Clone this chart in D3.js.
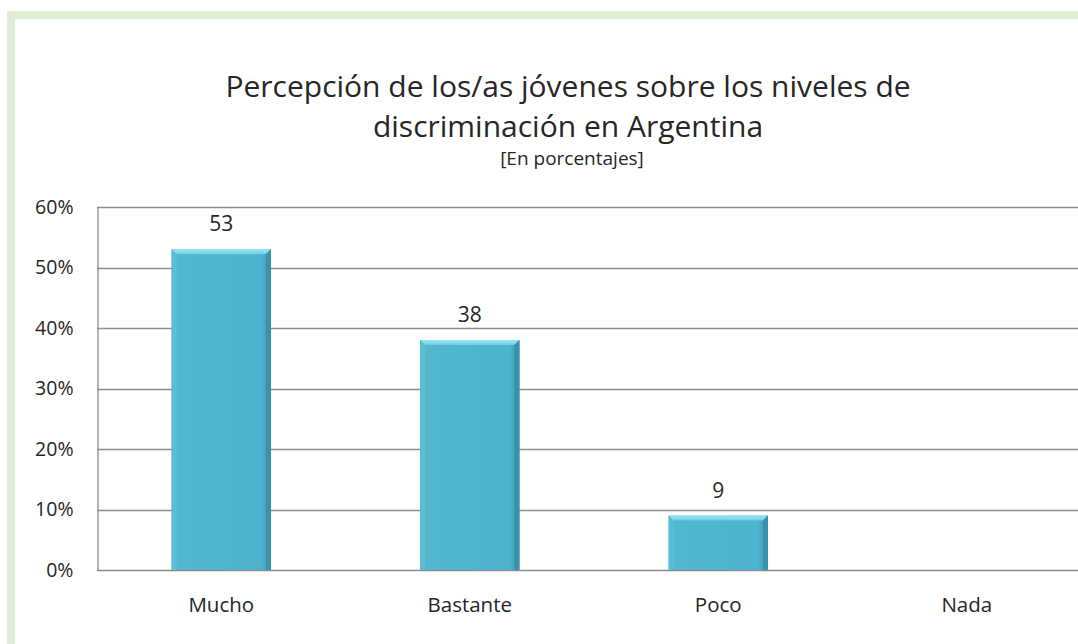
<!DOCTYPE html>
<html>
<head>
<meta charset="utf-8">
<script src="https://cdn.jsdelivr.net/npm/d3@7"></script>
<style>
  html, body { margin: 0; padding: 0; background: #fff; }
  svg { display: block; }
  text { font-family: "Open Sans", "Noto Sans", sans-serif; fill: #262626; }
</style>
</head>
<body>
<svg id="chart" width="1078" height="644"></svg>
<script>
// Survey answers and their shares (percent)
const categories = ["Mucho", "Bastante", "Poco", "Nada"];
const values = [53, 38, 9, 0];
const yTicks = [0, 10, 20, 30, 40, 50, 60];
const titleLines = ["Percepción de los/as jóvenes sobre los niveles de", "discriminación en Argentina"];
const subtitle = "[En porcentajes]";

const svg = d3.select("#chart");
const W = 1078, H = 644;

// Outer chart frame (light green border)
svg.append("rect")
  .attr("x", 11).attr("y", 15)
  .attr("width", W + 20).attr("height", H + 20)
  .attr("fill", "#fff")
  .attr("stroke", "#e2edd8").attr("stroke-width", 8);

const plot = { left: 97, right: 1091, top: 207, bottom: 570 };

const x = d3.scaleBand()
  .domain(categories)
  .range([plot.left, plot.right])
  .paddingInner(0.6).paddingOuter(0.3);

const y = d3.scaleLinear()
  .domain([0, 60])
  .range([plot.bottom, plot.top]);

// Gradients for the bevelled bars
const defs = svg.append("defs");
const body = defs.append("linearGradient").attr("id", "barBody")
  .attr("x1", 0).attr("x2", 1).attr("y1", 0).attr("y2", 0);
body.append("stop").attr("offset", "0%").attr("stop-color", "#4aaec8");
body.append("stop").attr("offset", "4%").attr("stop-color", "#52b7cf");
body.append("stop").attr("offset", "90%").attr("stop-color", "#4db4cd");
body.append("stop").attr("offset", "97%").attr("stop-color", "#3f9db6");
body.append("stop").attr("offset", "100%").attr("stop-color", "#3a93ab");

const topBevel = defs.append("linearGradient").attr("id", "barTop")
  .attr("x1", 0).attr("x2", 0).attr("y1", 0).attr("y2", 1);
topBevel.append("stop").attr("offset", "0%").attr("stop-color", "#9be6f5");
topBevel.append("stop").attr("offset", "100%").attr("stop-color", "#6fcfe4");

// Horizontal gridlines
svg.append("g")
  .selectAll("line")
  .data(yTicks)
  .join("line")
  .attr("x1", plot.left).attr("x2", W)
  .attr("y1", d => Math.round(y(d)) + 0.5).attr("y2", d => Math.round(y(d)) + 0.5)
  .attr("stroke", "#8c8c8c").attr("stroke-width", 1.3);

// Y axis
const yAxis = d3.axisLeft(y)
  .tickValues(yTicks)
  .tickFormat(d => d + "%")
  .tickSize(0)
  .tickPadding(24);
const gy = svg.append("g")
  .attr("transform", `translate(${plot.left + 0.5},0)`)
  .call(yAxis);
gy.select(".domain").attr("stroke", "#8c8c8c").attr("stroke-width", 1.3);
gy.selectAll("text").style("font-size", "19.5px").attr("fill", "#262626");

// X axis labels
const xAxis = d3.axisBottom(x).tickSize(0).tickPadding(27);
const gx = svg.append("g")
  .attr("transform", `translate(0,${Math.round(plot.bottom) + 0.5})`)
  .call(xAxis);
gx.select(".domain").remove();
gx.selectAll("text").style("font-size", "20.5px").attr("fill", "#262626");

// Bars with bevelled tops
const bev = 5;
const bars = svg.append("g")
  .selectAll("g")
  .data(categories.map((c, i) => ({ c, v: values[i] })).filter(d => d.v > 0))
  .join("g");

bars.append("rect")
  .attr("x", d => x(d.c))
  .attr("y", d => y(d.v))
  .attr("width", x.bandwidth())
  .attr("height", d => y(0) - y(d.v))
  .attr("fill", "url(#barBody)");

bars.append("path")
  .attr("d", d => {
    const x0 = x(d.c), x1 = x0 + x.bandwidth(), t = y(d.v);
    return `M${x0},${t}L${x1},${t}L${x1 - bev},${t + bev}L${x0 + bev},${t + bev}Z`;
  })
  .attr("fill", "url(#barTop)");

bars.append("path")
  .attr("d", d => {
    const x0 = x(d.c), t = y(d.v), b = y(0);
    return `M${x0},${t}L${x0 + bev},${t + bev}L${x0 + bev},${b}L${x0},${b}Z`;
  })
  .attr("fill", "#5fc2da").attr("opacity", 0.7);

bars.append("path")
  .attr("d", d => {
    const x1 = x(d.c) + x.bandwidth(), t = y(d.v), b = y(0);
    return `M${x1},${t}L${x1 - bev},${t + bev}L${x1 - bev},${b}L${x1},${b}Z`;
  })
  .attr("fill", "#3a92aa");

// Value labels
bars.append("text")
  .attr("x", d => x(d.c) + x.bandwidth() / 2)
  .attr("y", d => y(d.v) - 18)
  .attr("text-anchor", "middle")
  .style("font-size", "21px")
  .text(d => d.v);

// Title
const title = svg.append("g").attr("text-anchor", "middle");
title.selectAll("text.t")
  .data(titleLines)
  .join("text")
  .attr("class", "t")
  .attr("x", 568)
  .attr("y", (d, i) => 97 + i * 40)
  .style("font-size", "30px")
  .text(d => d);
title.append("text")
  .attr("x", 572).attr("y", 165)
  .style("font-size", "19px")
  .text(subtitle);
</script>
</body>
</html>
